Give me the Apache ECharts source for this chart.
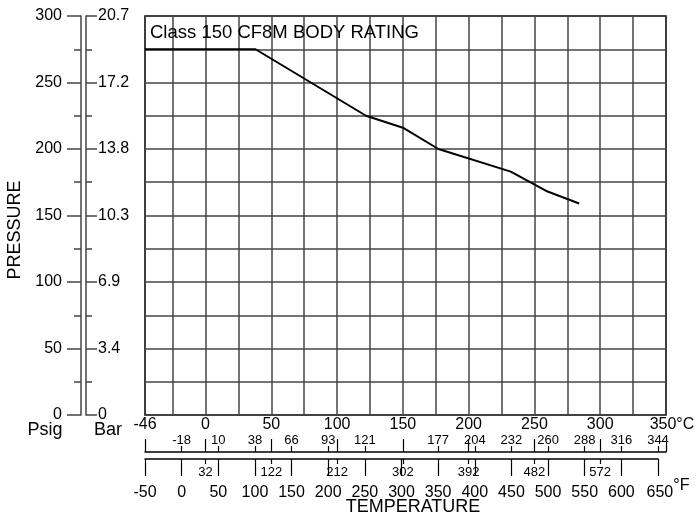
<!DOCTYPE html>
<html>
<head>
<meta charset="utf-8">
<script src="https://cdn.jsdelivr.net/npm/echarts@6/dist/echarts.min.js"></script>
<style>
html,body{margin:0;padding:0;background:#fff;}
#chart{width:699px;height:520px;}
</style>
</head>
<body>
<div id="chart"></div>
<script>
// ---- data ----
const tempC = [-46, 38, 122, 150, 177, 232, 260, 284];
const pressurePsig = [275, 275, 225, 216, 200, 183, 168, 159];

const barLabels = ['0', '3.4', '6.9', '10.3', '13.8', '17.2', '20.7'];
const celsiusLabels = [-46, 0, 50, 100, 150, 200, 250, 300, 350];
const celsiusGrid = [-25, 0, 25, 50, 75, 100, 125, 150, 175, 200, 225, 250, 275, 300, 325];
const celsiusMajorTicks = [-46, 0, 50, 100, 150, 200, 250, 300, 350];
const fahrenheitTicks = [-50, 0, 50, 100, 150, 200, 250, 300, 350, 400, 450, 500, 550, 600, 650];
const fahrenheitEqTicks = [0, 50, 100, 150, 200, 250, 350, 400, 450, 500, 550, 600, 650];
const celsiusEqLabels = ['-18', '10', '38', '66', '93', '121', '177', '204', '232', '260', '288', '316', '344'];
const celsiusEqTicks = [0, 50, 100, 150, 200, 250, 300];
const fahrenheitEqLabels = ['32', '122', '212', '302', '392', '482', '572'];

const FONT = "'Liberation Sans', Arial, sans-serif";
const AX = '#444';

const chart = echarts.init(document.getElementById('chart'), null, {renderer: 'canvas'});

const option = {
  animation: false,
  backgroundColor: '#fff',
  textStyle: {fontFamily: FONT, color: '#000'},
  grid: [
    {left: 145, right: 33, top: 16, bottom: 105, show: true, borderColor: '#000', borderWidth: 1.5, backgroundColor: 'transparent', containLabel: false},
    {left: 145, right: 41, top: 16, bottom: 105, show: false, containLabel: false}
  ],
  xAxis: [
    { // main Celsius axis: labels + vertical grid
      type: 'value', gridIndex: 0, min: -46, max: 350, position: 'bottom',
      axisLine: {show: false},
      axisTick: {show: false, customValues: celsiusGrid},
      splitLine: {show: true, lineStyle: {color: AX, width: 1.5}},
      axisLabel: {
        customValues: celsiusLabels, margin: 2, fontSize: 16, color: '#000', fontFamily: FONT,
        showMinLabel: true, showMaxLabel: true,
        formatter: v => v === 350 ? '{p|}350°C' : String(v),
        rich: {p: {width: 12}}
      }
    },
    { // Celsius scale line
      type: 'value', gridIndex: 0, min: -46, max: 350, position: 'bottom', offset: 37,
      axisLine: {show: true, onZero: false, lineStyle: {color: '#000', width: 1.5}},
      axisTick: {show: true, inside: true, length: 13, customValues: celsiusMajorTicks, lineStyle: {color: '#000', width: 1.2}},
      axisLabel: {show: false},
      splitLine: {show: false}
    },
    { // Celsius equivalents of Fahrenheit ticks (above Celsius line)
      type: 'value', gridIndex: 1, min: -50, max: 650, position: 'bottom', offset: 37,
      axisLine: {show: false, onZero: false},
      axisTick: {show: true, inside: true, length: 6, customValues: fahrenheitEqTicks, lineStyle: {color: '#000', width: 1.2}},
      axisLabel: {
        inside: true, margin: 5, fontSize: 13, color: '#000', fontFamily: FONT,
        customValues: fahrenheitEqTicks, showMinLabel: true, showMaxLabel: true,
        formatter: v => celsiusEqLabels[fahrenheitEqTicks.indexOf(v)]
      },
      splitLine: {show: false}
    },
    { // Fahrenheit scale line
      type: 'value', gridIndex: 1, min: -50, max: 650, position: 'bottom', offset: 44,
      axisLine: {show: true, onZero: false, lineStyle: {color: '#000', width: 1.5}},
      axisTick: {show: true, length: 17, customValues: fahrenheitTicks, lineStyle: {color: '#000', width: 1.2}},
      axisLabel: {
        customValues: fahrenheitTicks, margin: 19, fontSize: 16, color: '#000', fontFamily: FONT,
        showMinLabel: true, showMaxLabel: true,
        formatter: v => v === 650 ? '{p|}{n|650}{u|°F}' : '{n|' + v + '}',
        rich: {
          n: {fontSize: 16, fontFamily: FONT, verticalAlign: 'bottom', padding: [7, 0, 0, 0]},
          u: {fontSize: 16, fontFamily: FONT, verticalAlign: 'top'},
          p: {width: 20}
        }
      },
      splitLine: {show: false}
    },
    { // Fahrenheit equivalents of Celsius ticks (below Fahrenheit line)
      type: 'value', gridIndex: 0, min: -46, max: 350, position: 'bottom', offset: 44,
      axisLine: {show: false, onZero: false},
      axisTick: {show: true, length: 5, customValues: celsiusEqTicks, lineStyle: {color: '#000', width: 1.2}},
      axisLabel: {
        margin: 7, fontSize: 13, color: '#000', fontFamily: FONT,
        customValues: celsiusEqTicks, showMinLabel: true, showMaxLabel: true,
        formatter: v => fahrenheitEqLabels[celsiusEqTicks.indexOf(v)]
      },
      splitLine: {show: false}
    }
  ],
  yAxis: [
    { // Psig
      type: 'value', gridIndex: 0, min: 0, max: 300, interval: 50, position: 'left', offset: 64,
      axisLine: {show: true, onZero: false, lineStyle: {color: AX, width: 1.5}},
      axisTick: {show: true, length: 14, lineStyle: {color: AX, width: 1.5}},
      minorTick: {show: true, splitNumber: 2, length: 7, lineStyle: {color: AX, width: 1.5}},
      axisLabel: {margin: 19, fontSize: 16, color: '#000', fontFamily: FONT, showMinLabel: true, showMaxLabel: true},
      splitLine: {show: false}
    },
    { // Bar
      type: 'value', gridIndex: 0, min: 0, max: 300, interval: 50, position: 'left', offset: 59,
      axisLine: {show: true, onZero: false, lineStyle: {color: AX, width: 1.5}},
      axisTick: {show: true, inside: true, length: 11, lineStyle: {color: AX, width: 1.5}},
      minorTick: {show: true, splitNumber: 2, length: 6, lineStyle: {color: AX, width: 1.5}},
      axisLabel: {inside: true, margin: 12, fontSize: 16, color: '#000', fontFamily: FONT, showMinLabel: true, showMaxLabel: true,
        formatter: v => barLabels[Math.round(v / 50)]},
      splitLine: {show: false}
    },
    { // horizontal grid lines
      type: 'value', gridIndex: 0, min: 0, max: 300, interval: 25,
      axisLine: {show: false}, axisTick: {show: false}, axisLabel: {show: false},
      splitLine: {show: true, lineStyle: {color: AX, width: 1.5}}
    },
    {type: 'value', gridIndex: 1, min: 0, max: 300, show: false}
  ],
  graphic: [
    {type: 'text', x: 150, y: 33, z: 100, style: {text: 'Class 150 CF8M BODY RATING', fill: '#000', font: '18.5px ' + FONT, textAlign: 'left', textVerticalAlign: 'middle', align: 'left', verticalAlign: 'middle'}},
    {type: 'text', x: 15, y: 230, rotation: Math.PI / 2, style: {text: 'PRESSURE', fill: '#000', font: '18px ' + FONT, textAlign: 'center', textVerticalAlign: 'middle', align: 'center', verticalAlign: 'middle'}},
    {type: 'text', x: 45, y: 430, style: {text: 'Psig', fill: '#000', font: '18px ' + FONT, textAlign: 'center', textVerticalAlign: 'middle', align: 'center', verticalAlign: 'middle'}},
    {type: 'text', x: 108, y: 430, style: {text: 'Bar', fill: '#000', font: '18px ' + FONT, textAlign: 'center', textVerticalAlign: 'middle', align: 'center', verticalAlign: 'middle'}},
    {type: 'text', x: 413, y: 507, style: {text: 'TEMPERATURE', fill: '#000', font: '18px ' + FONT, textAlign: 'center', textVerticalAlign: 'middle', align: 'center', verticalAlign: 'middle'}}
  ],
  series: [
    {
      type: 'line', xAxisIndex: 0, yAxisIndex: 0,
      data: tempC.map((c, i) => [c, pressurePsig[i]]),
      showSymbol: false, symbol: 'none',
      lineStyle: {color: '#000', width: 2},
      z: 10
    }
  ]
};
chart.setOption(option);
</script>
</body>
</html>
